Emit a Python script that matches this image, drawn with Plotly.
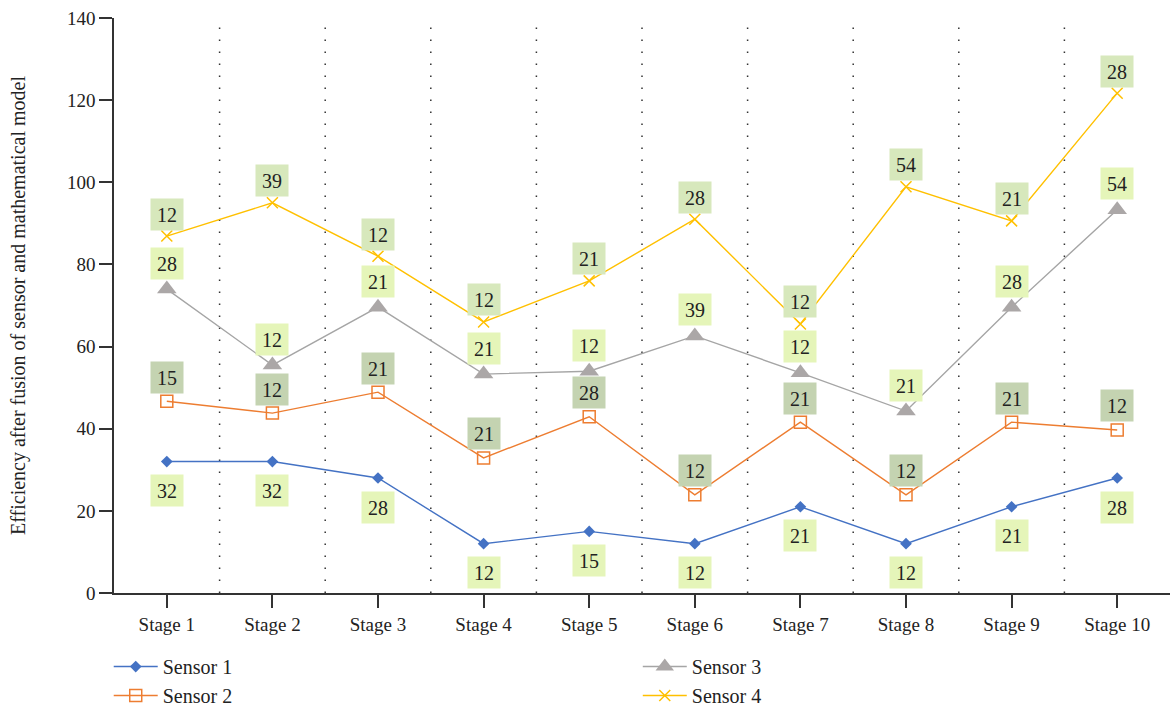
import plotly.graph_objects as go

stages = [f"Stage {i}" for i in range(1, 11)]

sensor1 = [32, 32, 28, 12, 15, 12, 21, 12, 21, 28]
sensor2 = [46.7, 43.8, 48.9, 32.9, 42.9, 23.9, 41.6, 23.9, 41.6, 39.7]
sensor3 = [74.0, 55.5, 69.6, 53.3, 54.0, 62.6, 53.6, 44.3, 69.6, 93.3]
sensor4 = [86.9, 95.0, 82.0, 66.0, 76.0, 91.0, 65.5, 98.9, 90.6, 121.7]

labels1 = [32, 32, 28, 12, 15, 12, 21, 12, 21, 28]
labels2 = [15, 12, 21, 21, 28, 12, 21, 12, 21, 12]
labels3 = [28, 12, 21, 21, 12, 39, 12, 21, 28, 54]
labels4 = [12, 39, 12, 12, 21, 28, 12, 54, 21, 28]

FONT = "Liberation Serif, Times New Roman, serif"

series = [
    dict(name="Sensor 1", y=sensor1, labels=labels1, color="#4472C4",
         marker=dict(symbol="diamond", size=9, color="#4472C4"),
         shift=-29, bg="#E5F5B9", legend="legend"),
    dict(name="Sensor 2", y=sensor2, labels=labels2, color="#ED7D31",
         marker=dict(symbol="square-open", size=12, color="#ED7D31",
                     line=dict(width=1.5, color="#ED7D31")),
         shift=24, bg="#C4D3B1", legend="legend"),
    dict(name="Sensor 3", y=sensor3, labels=labels3, color="#A5A5A5",
         marker=dict(symbol="triangle-up", size=17, color="#ABA7A7"),
         shift=26, bg="#E5F5B9", legend="legend2"),
    dict(name="Sensor 4", y=sensor4, labels=labels4, color="#FFC000",
         marker=dict(symbol="x-thin", size=11, color="#FFC000",
                     line=dict(width=1.5, color="#FFC000")),
         shift=22, bg="#D7E8BC", legend="legend2"),
]

fig = go.Figure()
annotations = []
for s in series:
    fig.add_trace(go.Scatter(
        x=stages, y=s["y"], name=s["name"], mode="lines+markers",
        line=dict(color=s["color"], width=1.4),
        marker=s["marker"], legend=s["legend"],
    ))
    for xv, yv, lab in zip(stages, s["y"], s["labels"]):
        annotations.append(dict(
            x=xv, y=yv, xref="x", yref="y", text=str(lab), showarrow=False,
            yshift=s["shift"], bgcolor=s["bg"], width=30, height=29,
            font=dict(family=FONT, size=20, color="#222222"),
        ))

# dotted separators between stages
shapes = []
for i in range(len(stages) - 1):
    shapes.append(dict(
        type="line", xref="x", yref="y", x0=i + 0.5, x1=i + 0.5, y0=0, y1=140,
        line=dict(color="#333333", width=1.5, dash="1.5px,10.5px"),
        layer="below",
    ))

legend_style = dict(yanchor="top", xanchor="left", orientation="v",
                    font=dict(size=20), tracegroupgap=0, itemwidth=44,
                    bgcolor="rgba(0,0,0,0)")

fig.update_layout(
    width=1174, height=711,
    margin=dict(l=114, r=4, t=18, b=118, autoexpand=False),
    paper_bgcolor="white", plot_bgcolor="white",
    font=dict(family=FONT, size=19, color="#222222"),
    annotations=annotations, shapes=shapes,
    showlegend=True,
    legend=dict(x=-0.005, y=-0.094, **legend_style),
    legend2=dict(x=0.496, y=-0.094, **legend_style),
)
fig.update_xaxes(
    type="category", range=[-0.5, 9.5], showgrid=False, showline=True,
    linecolor="#333333", linewidth=1.5, ticks="outside", ticklen=13,
    tickcolor="#333333", tickwidth=1.5, tickfont=dict(size=19),
)
fig.update_yaxes(
    range=[0, 140], dtick=20, showgrid=False, zeroline=False, showline=True,
    linecolor="#333333", linewidth=1.5, ticks="outside", ticklen=13,
    tickcolor="#333333", tickwidth=1.5, tickfont=dict(size=19),
    title=dict(text="Efficiency after fusion of sensor and mathematical model",
               font=dict(size=20), standoff=36),
)

fig.write_html("out.html")
